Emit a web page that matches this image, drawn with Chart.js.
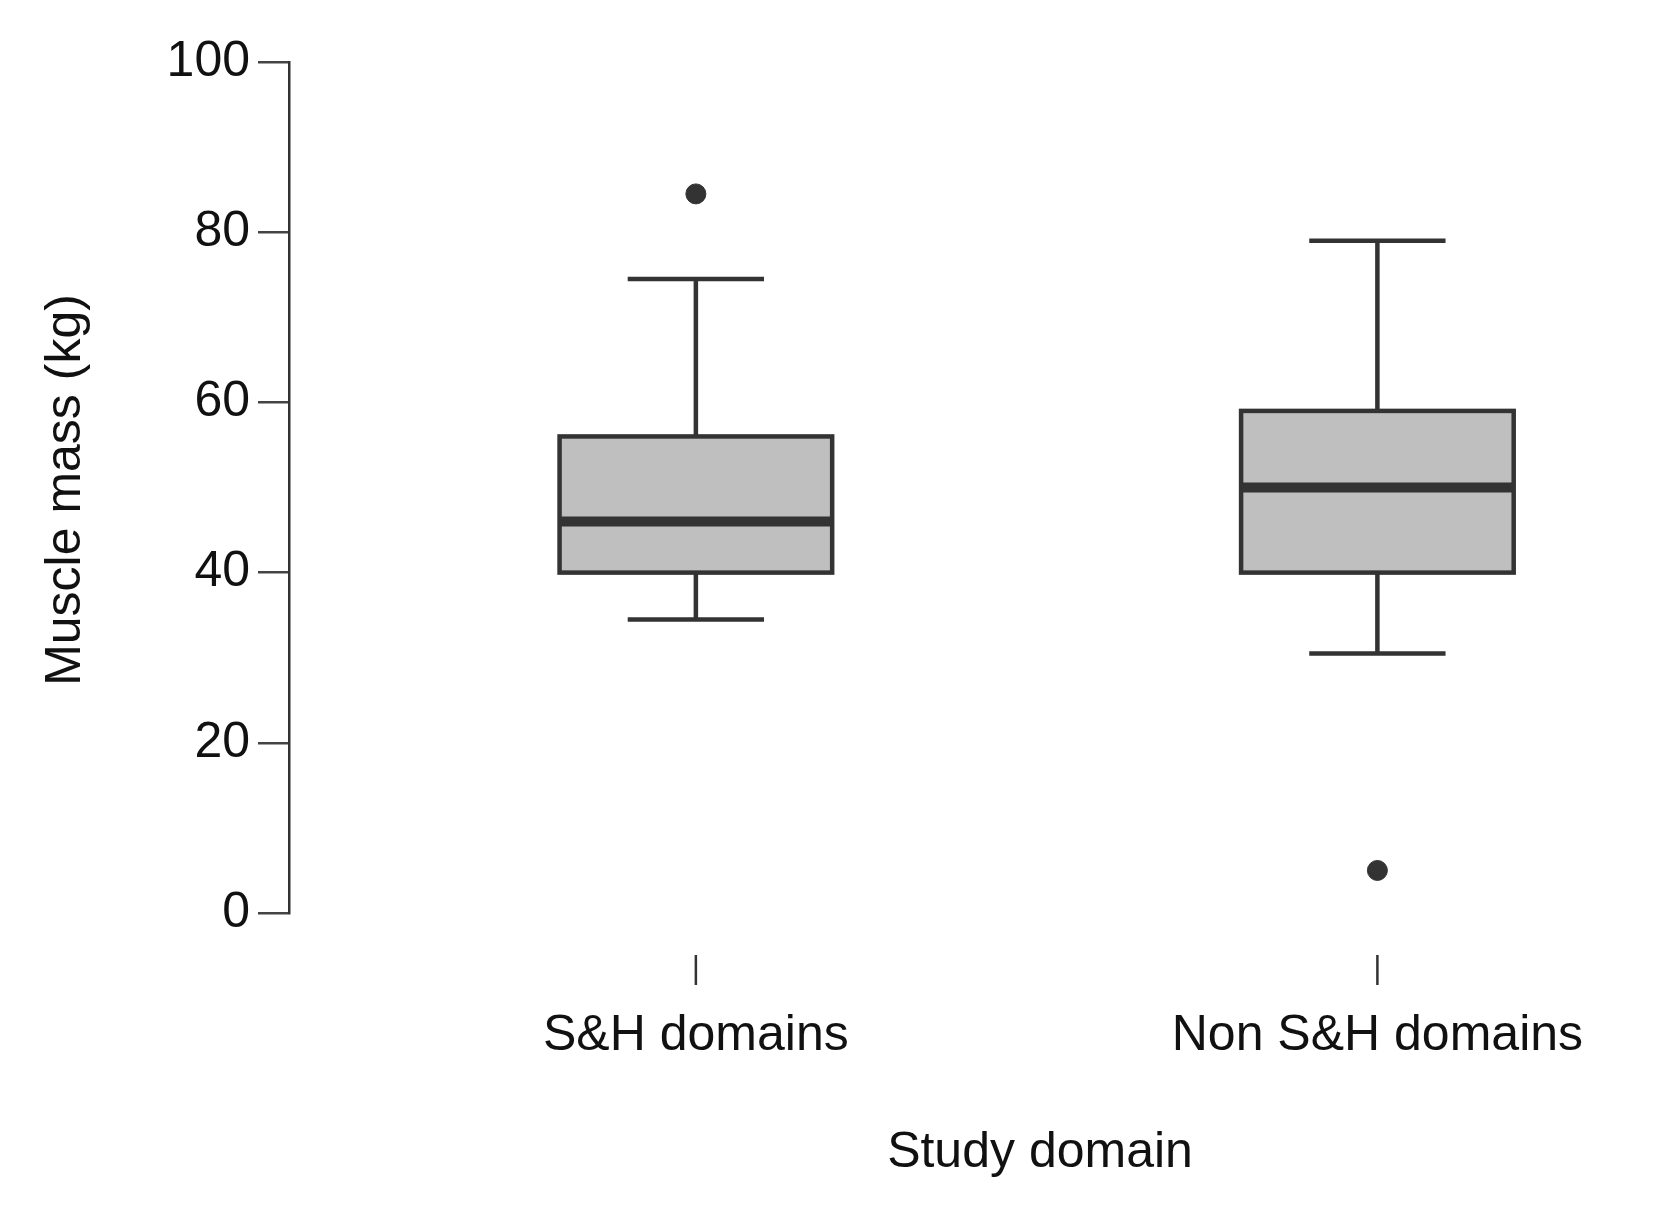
<!DOCTYPE html>
<html><head><meta charset="utf-8">
<script src="https://cdn.jsdelivr.net/npm/chart.js@4"></script>
<style>html,body{margin:0;background:#fff}#w{width:1661px;height:1216px}</style>
</head><body><div id="w"><canvas id="c"></canvas></div>
<script>
const categories = ["S&H domains", "Non S&H domains"];
const whiskerLow = [34.5, 30.5];
const q1 = [40, 40];
const median = [46, 50];
const q3 = [56, 59];
const whiskerHigh = [74.5, 79];
const outliers = [[84.5], [5]];
const yTicks = [0, 20, 40, 60, 80, 100];
const FONT = "'Liberation Sans', Arial, sans-serif";

const boxPlugin = {
  id: 'box',
  afterDatasetsDraw(chart) {
    const ctx = chart.ctx, x = chart.scales.x, y = chart.scales.y;
    const unit = x.getPixelForValue(2) - x.getPixelForValue(1);
    const half = unit * 0.2, cap = unit * 0.1;
    ctx.save();
    ctx.strokeStyle = '#333';
    categories.forEach((c, i) => {
      const cx = x.getPixelForValue(i + 1);
      ctx.lineWidth = 4.5;
      ctx.beginPath();
      ctx.moveTo(cx, y.getPixelForValue(q3[i])); ctx.lineTo(cx, y.getPixelForValue(whiskerHigh[i]));
      ctx.moveTo(cx - cap, y.getPixelForValue(whiskerHigh[i])); ctx.lineTo(cx + cap, y.getPixelForValue(whiskerHigh[i]));
      ctx.moveTo(cx, y.getPixelForValue(q1[i])); ctx.lineTo(cx, y.getPixelForValue(whiskerLow[i]));
      ctx.moveTo(cx - cap, y.getPixelForValue(whiskerLow[i])); ctx.lineTo(cx + cap, y.getPixelForValue(whiskerLow[i]));
      ctx.stroke();
      const top = y.getPixelForValue(q3[i]), bot = y.getPixelForValue(q1[i]);
      ctx.fillStyle = '#bfbfbf';
      ctx.fillRect(cx - half, top, 2 * half, bot - top);
      ctx.strokeRect(cx - half, top, 2 * half, bot - top);
      ctx.lineWidth = 10;
      ctx.beginPath();
      ctx.moveTo(cx - half, y.getPixelForValue(median[i])); ctx.lineTo(cx + half, y.getPixelForValue(median[i]));
      ctx.stroke();
      const by = chart.chartArea.bottom;
      ctx.lineWidth = 2.5;
      ctx.beginPath(); ctx.moveTo(cx, by + 42); ctx.lineTo(cx, by + 72); ctx.stroke();
      ctx.fillStyle = '#111';
      ctx.font = '50px ' + FONT;
      ctx.textAlign = 'center'; ctx.textBaseline = 'middle';
      ctx.fillText(c, cx, by + 123);
    });
    ctx.fillStyle = '#111';
    ctx.font = '50px ' + FONT;
    ctx.textAlign = 'center'; ctx.textBaseline = 'middle';
    ctx.fillText('Study domain', 1040, chart.chartArea.bottom + 240);
    ctx.translate(66, 490); ctx.rotate(-Math.PI / 2);
    ctx.fillText('Muscle mass (kg)', 0, 0);
    ctx.restore();
  }
};

const pts = [];
outliers.forEach((o, i) => o.forEach(v => pts.push({x: i + 1, y: v})));

new Chart(document.getElementById('c'), {
  type: 'scatter',
  data: { datasets: [{ data: pts, pointRadius: 10, pointHoverRadius: 10, backgroundColor: '#333', borderColor: '#333' }] },
  options: {
    responsive: true, maintainAspectRatio: false, animation: false,
    layout: { padding: { left: 0, top: 62, right: 0, bottom: 303 } },
    plugins: { legend: { display: false }, tooltip: { enabled: false } },
    scales: {
      x: { type: 'linear', display: false, min: 0.403, max: 2.4 },
      y: {
        min: 0, max: 100,
        afterFit(s) { s.width = 289; },
        afterBuildTicks(s) { s.ticks = yTicks.map(v => ({ value: v })); },
        grid: { drawOnChartArea: false, tickLength: 31, color: '#444', lineWidth: 2.5 },
        border: { display: true, color: '#333', width: 2.5 },
        ticks: { color: '#111', font: { size: 50, family: FONT }, padding: 8 }
      }
    }
  },
  plugins: [boxPlugin]
});
</script></body></html>
